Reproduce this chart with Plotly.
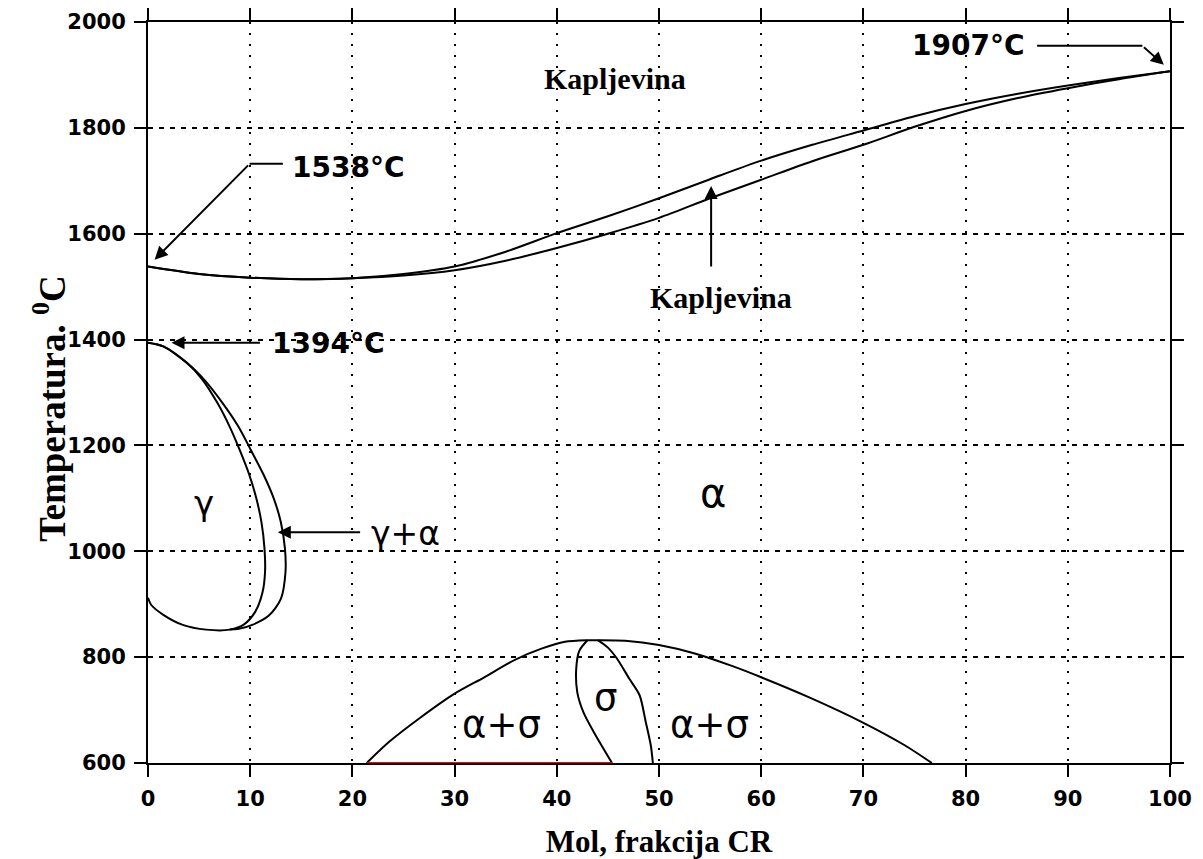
import plotly.graph_objects as go

# ---------------- data ----------------
# Liquidus (upper) and solidus (lower) lines, mol % Cr vs temperature
liq_x = [0, 5, 10, 15, 20, 25, 30, 35, 40, 45, 50, 55, 60, 65, 70, 75, 80, 85, 90, 95, 100]
liq_T = [1538, 1524, 1517, 1514, 1516, 1524, 1538, 1566, 1601, 1633, 1667, 1703, 1738, 1768, 1795, 1822, 1845, 1864, 1880, 1894, 1907]
sol_x = [0, 5, 10, 15, 20, 25, 30, 35, 40, 45, 50, 55, 60, 65, 70, 75, 80, 85, 90, 95, 100]
sol_T = [1538, 1524, 1517, 1514, 1516, 1521, 1531, 1549, 1573, 1600, 1630, 1667, 1702, 1737, 1768, 1802, 1832, 1856, 1875, 1892, 1907]

# gamma loop: inner boundary (gamma / gamma+alpha)
gin_x = [0, 1.5, 3.8, 5.3, 6.8, 8.0, 9.0, 9.9, 10.6, 11.1, 11.4, 11.45, 11.2, 10.5, 9.4, 8.0, 5.7, 3.4, 1.5, 0.3, 0]
gin_T = [1394, 1387, 1356, 1325, 1280, 1235, 1190, 1145, 1100, 1055, 1005, 960, 922, 886, 862, 852, 852, 861, 880, 899, 912]
# gamma loop: outer boundary (gamma+alpha / alpha)
gout_x = [0, 1.5, 3.8, 5.6, 7.3, 8.8, 10.1, 11.3, 12.3, 13.0, 13.4, 13.45, 13.0, 11.8, 10.2, 8.8, 8.0]
gout_T = [1394, 1387, 1356, 1322, 1280, 1237, 1190, 1145, 1100, 1055, 1005, 960, 910, 878, 861, 853, 852]

# alpha+sigma dome
dome_x = [21.4, 23.6, 26.6, 30, 32.9, 35.9, 38.5, 40.8, 43.0, 44.0, 46.7, 50, 53.5, 57.2, 60, 64.7, 70, 74, 76.7]
dome_T = [600, 640, 685, 731, 762, 795, 816, 829, 832, 832, 831, 823, 807, 783, 762, 724, 676, 634, 600]
# sigma phase boundaries
sigL_x = [43.0, 42.2, 41.9, 42.0, 42.6, 43.6, 45.4]
sigL_T = [832, 812, 778, 734, 696, 659, 600]
sigR_x = [44.0, 45.0, 45.9, 47.1, 48.1, 48.7, 49.2, 49.4]
sigR_T = [832, 818, 797, 759, 728, 678, 633, 600]
# red segment on the 600 line
red_x = [21.4, 45.4]
red_T = [600, 600]

x_ticks = [0, 10, 20, 30, 40, 50, 60, 70, 80, 90, 100]
y_ticks = [600, 800, 1000, 1200, 1400, 1600, 1800, 2000]

BLACK = "black"
fig = go.Figure()

def line(x, y, color=BLACK, width=2):
    fig.add_trace(go.Scatter(x=x, y=y, mode="lines", line=dict(color=color, width=width, smoothing=0.8),
                             line_shape="spline", hoverinfo="skip", cliponaxis=False))

line(liq_x, liq_T)
line(sol_x, sol_T)
line(gin_x, gin_T)
line(gout_x, gout_T)
line(dome_x, dome_T)
line(sigL_x, sigL_T)
line(sigR_x, sigR_T)
fig.add_trace(go.Scatter(x=red_x, y=red_T, mode="lines", line=dict(color="red", width=2),
                         hoverinfo="skip", cliponaxis=False))

# ---------------- annotations ----------------
lab_font = dict(family="DejaVu Sans", size=28, color=BLACK)
serif_font = dict(family="Liberation Serif", size=30, color=BLACK)
greek_font = dict(family="DejaVu Sans", size=37, color=BLACK)

ann = []
def text(x, y, t, font, xanchor="center"):
    ann.append(dict(x=x, y=y, xref="x", yref="y", text=t, showarrow=False,
                    font=font, xanchor=xanchor, yanchor="middle"))

def arrow(x, y, ax, ay):
    ann.append(dict(x=x, y=y, ax=ax, ay=ay, xref="x", yref="y", axref="x", ayref="y",
                    text="", showarrow=True, arrowhead=2, arrowsize=1.3, arrowwidth=2,
                    arrowcolor=BLACK))

text(45.7, 1893, "<b>Kapljevina</b>", serif_font)
text(56.1, 1479, "<b>Kapljevina</b>", serif_font)
arrow(55.1, 1690, 55.1, 1535)

text(13.9, 1726, "<b>1538°C</b>", lab_font, "left")
arrow(0.65, 1551, 9.94, 1732)

text(11.9, 1393, "<b>1394°C</b>", lab_font, "left")
arrow(2.3, 1394, 11.1, 1394)

text(-3.4, 906, "<b>912°C</b>", lab_font, "right")
arrow(-0.3, 906, -3.0, 906)

text(85.9, 1955, "<b>1907°C</b>", lab_font, "right")
arrow(99.4, 1919, 97.3, 1955)

text(21.6, 1034, "γ+α", dict(family="DejaVu Sans", size=33, color=BLACK), "left")
arrow(12.7, 1036, 20.9, 1036)

text(5.5, 1092, "γ", dict(family="DejaVu Sans", size=34, color=BLACK))
text(55.3, 1110, "α", dict(family="DejaVu Sans", size=40, color=BLACK))
text(34.6, 672, "α+σ", greek_font)
text(44.8, 724, "σ", greek_font)
text(54.9, 672, "α+σ", greek_font)

# y-axis title (placed as a rotated annotation to match the reference position)
ann.append(dict(x=0, y=0.478, xref="paper", yref="paper", xshift=-98,
                text="<b>Temperatura. <sup>0</sup>C</b>", textangle=-90, showarrow=False,
                font=dict(family="Liberation Serif", size=37, color=BLACK),
                xanchor="center", yanchor="middle"))

shapes = [
    dict(type="line", xref="x", yref="y", x0=9.94, y0=1732, x1=13.2, y1=1732,
         line=dict(color=BLACK, width=2)),
    dict(type="line", xref="x", yref="y", x0=87.0, y0=1955, x1=97.3, y1=1955,
         line=dict(color=BLACK, width=2)),
]

axis_common = dict(
    showline=True, linecolor=BLACK, linewidth=2, mirror="allticks",
    ticks="outside", ticklen=12, tickwidth=2, tickcolor=BLACK,
    showgrid=True, gridcolor=BLACK, gridwidth=1.6, zeroline=False,
    tickfont=dict(family="DejaVu Sans", size=21, color=BLACK, weight="bold"),
    ticklabelstandoff=4, automargin=False, layer="below traces",
)

# the page body adds an 8px offset, so the figure is sized/margined to compensate
fig.update_layout(
    width=1195, height=851,
    margin=dict(l=140, r=33, t=14, b=96, autoexpand=False),
    paper_bgcolor="white", plot_bgcolor="white",
    showlegend=False,
    annotations=ann, shapes=shapes,
    xaxis=dict(range=[0, 100], tickvals=x_ticks, griddash="2px,9px",
               title=dict(text="<b>Mol, frakcija CR</b>", standoff=20,
                          font=dict(family="Liberation Serif", size=31, color=BLACK)),
               **axis_common),
    yaxis=dict(range=[600, 2000], tickvals=y_ticks, griddash="5px,6px",
               **axis_common),
)

fig.write_html("out.html")
